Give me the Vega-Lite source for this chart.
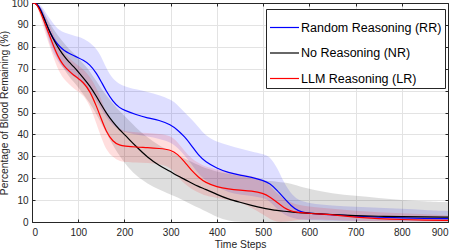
{
  "$schema": "https://vega.github.io/schema/vega-lite/v6.json",
  "width": 416,
  "height": 219,
  "autosize": {"type": "none"},
  "padding": {"left": 32, "top": 3, "right": 9, "bottom": 29},
  "background": "white",
  "config": {
    "font": "Liberation Sans",
    "view": {"stroke": null},
    "axis": {
      "labelFont": "Liberation Sans",
      "titleFont": "Liberation Sans",
      "labelFontSize": 10,
      "titleFontSize": 10.3,
      "labelColor": "#262626",
      "titleColor": "#262626",
      "titleFontWeight": "normal",
      "domainColor": "#262626",
      "tickColor": "#262626",
      "gridColor": "#e3e3e3",
      "gridWidth": 1
    }
  },
  "data": {"values": [
    {"s":"Random Reasoning (RR)","t":0,"m":100,"lo":100,"hi":100},
    {"s":"Random Reasoning (RR)","t":10,"m":100,"lo":100,"hi":100},
    {"s":"Random Reasoning (RR)","t":20,"m":97,"lo":95,"hi":99},
    {"s":"Random Reasoning (RR)","t":30,"m":91,"lo":87,"hi":95.5},
    {"s":"Random Reasoning (RR)","t":40,"m":86,"lo":80,"hi":92.5},
    {"s":"Random Reasoning (RR)","t":50,"m":82.5,"lo":75.5,"hi":89.5},
    {"s":"Random Reasoning (RR)","t":60,"m":80,"lo":72,"hi":87.5},
    {"s":"Random Reasoning (RR)","t":70,"m":78.2,"lo":70,"hi":86.5},
    {"s":"Random Reasoning (RR)","t":80,"m":77,"lo":68,"hi":85.8},
    {"s":"Random Reasoning (RR)","t":90,"m":76,"lo":66.5,"hi":85.2},
    {"s":"Random Reasoning (RR)","t":100,"m":75,"lo":65,"hi":84.6},
    {"s":"Random Reasoning (RR)","t":110,"m":74,"lo":63,"hi":83.8},
    {"s":"Random Reasoning (RR)","t":125,"m":72,"lo":60,"hi":82},
    {"s":"Random Reasoning (RR)","t":140,"m":67.8,"lo":55,"hi":79},
    {"s":"Random Reasoning (RR)","t":150,"m":64,"lo":51.5,"hi":75.5},
    {"s":"Random Reasoning (RR)","t":160,"m":60,"lo":48,"hi":70.5},
    {"s":"Random Reasoning (RR)","t":175,"m":55,"lo":44,"hi":65},
    {"s":"Random Reasoning (RR)","t":190,"m":52,"lo":42,"hi":63},
    {"s":"Random Reasoning (RR)","t":200,"m":51,"lo":41,"hi":62},
    {"s":"Random Reasoning (RR)","t":225,"m":49,"lo":40,"hi":60.5},
    {"s":"Random Reasoning (RR)","t":250,"m":47.5,"lo":39,"hi":59.5},
    {"s":"Random Reasoning (RR)","t":275,"m":46.5,"lo":38,"hi":58},
    {"s":"Random Reasoning (RR)","t":300,"m":44.5,"lo":36.5,"hi":56},
    {"s":"Random Reasoning (RR)","t":315,"m":42,"lo":34,"hi":53.5},
    {"s":"Random Reasoning (RR)","t":330,"m":39,"lo":30.5,"hi":50},
    {"s":"Random Reasoning (RR)","t":345,"m":35,"lo":26.5,"hi":47},
    {"s":"Random Reasoning (RR)","t":360,"m":30.5,"lo":22,"hi":43.5},
    {"s":"Random Reasoning (RR)","t":375,"m":27.5,"lo":19,"hi":39.5},
    {"s":"Random Reasoning (RR)","t":400,"m":24.5,"lo":16,"hi":36.5},
    {"s":"Random Reasoning (RR)","t":425,"m":22.5,"lo":13.5,"hi":35},
    {"s":"Random Reasoning (RR)","t":450,"m":21.4,"lo":12.5,"hi":33.5},
    {"s":"Random Reasoning (RR)","t":475,"m":20.5,"lo":12,"hi":32.2},
    {"s":"Random Reasoning (RR)","t":500,"m":19,"lo":11,"hi":31},
    {"s":"Random Reasoning (RR)","t":515,"m":17.6,"lo":9.5,"hi":29.8},
    {"s":"Random Reasoning (RR)","t":530,"m":14.5,"lo":6,"hi":25},
    {"s":"Random Reasoning (RR)","t":545,"m":11,"lo":3.5,"hi":18},
    {"s":"Random Reasoning (RR)","t":560,"m":7.5,"lo":2,"hi":13},
    {"s":"Random Reasoning (RR)","t":575,"m":5,"lo":1.2,"hi":10},
    {"s":"Random Reasoning (RR)","t":600,"m":3.8,"lo":0.8,"hi":8.5},
    {"s":"Random Reasoning (RR)","t":650,"m":3.3,"lo":0.6,"hi":7.5},
    {"s":"Random Reasoning (RR)","t":700,"m":2.7,"lo":0.5,"hi":7},
    {"s":"Random Reasoning (RR)","t":750,"m":2.2,"lo":0.4,"hi":6.5},
    {"s":"Random Reasoning (RR)","t":800,"m":1.9,"lo":0.3,"hi":6},
    {"s":"Random Reasoning (RR)","t":850,"m":1.7,"lo":0.3,"hi":5.5},
    {"s":"Random Reasoning (RR)","t":900,"m":1.5,"lo":0.3,"hi":5},
    {"s":"No Reasoning (NR)","t":0,"m":100,"lo":100,"hi":100},
    {"s":"No Reasoning (NR)","t":10,"m":100,"lo":100,"hi":100},
    {"s":"No Reasoning (NR)","t":20,"m":96,"lo":94,"hi":98},
    {"s":"No Reasoning (NR)","t":30,"m":91,"lo":88,"hi":94},
    {"s":"No Reasoning (NR)","t":40,"m":86,"lo":82,"hi":90},
    {"s":"No Reasoning (NR)","t":50,"m":82,"lo":77,"hi":87},
    {"s":"No Reasoning (NR)","t":60,"m":78.5,"lo":73,"hi":84},
    {"s":"No Reasoning (NR)","t":70,"m":75.5,"lo":69.5,"hi":81.5},
    {"s":"No Reasoning (NR)","t":80,"m":73,"lo":66.5,"hi":79},
    {"s":"No Reasoning (NR)","t":90,"m":71,"lo":64,"hi":77},
    {"s":"No Reasoning (NR)","t":100,"m":68.6,"lo":61.5,"hi":75},
    {"s":"No Reasoning (NR)","t":110,"m":66,"lo":58.5,"hi":72.5},
    {"s":"No Reasoning (NR)","t":125,"m":62.3,"lo":54.5,"hi":69},
    {"s":"No Reasoning (NR)","t":140,"m":57.2,"lo":49,"hi":64},
    {"s":"No Reasoning (NR)","t":150,"m":53.5,"lo":45,"hi":61},
    {"s":"No Reasoning (NR)","t":160,"m":50,"lo":41,"hi":58},
    {"s":"No Reasoning (NR)","t":175,"m":45.5,"lo":35,"hi":54},
    {"s":"No Reasoning (NR)","t":190,"m":42,"lo":30,"hi":50.5},
    {"s":"No Reasoning (NR)","t":200,"m":40,"lo":27,"hi":48.5},
    {"s":"No Reasoning (NR)","t":225,"m":34.5,"lo":21,"hi":43},
    {"s":"No Reasoning (NR)","t":250,"m":29.5,"lo":17.5,"hi":38.5},
    {"s":"No Reasoning (NR)","t":275,"m":25.8,"lo":14.8,"hi":35},
    {"s":"No Reasoning (NR)","t":300,"m":23,"lo":12.5,"hi":32},
    {"s":"No Reasoning (NR)","t":315,"m":21,"lo":11.2,"hi":30.5},
    {"s":"No Reasoning (NR)","t":330,"m":19.5,"lo":9.5,"hi":29},
    {"s":"No Reasoning (NR)","t":345,"m":17.8,"lo":8,"hi":27.5},
    {"s":"No Reasoning (NR)","t":360,"m":16.2,"lo":6.5,"hi":26},
    {"s":"No Reasoning (NR)","t":375,"m":15,"lo":5,"hi":24.5},
    {"s":"No Reasoning (NR)","t":400,"m":12.6,"lo":2.2,"hi":23},
    {"s":"No Reasoning (NR)","t":425,"m":10.4,"lo":0.5,"hi":22},
    {"s":"No Reasoning (NR)","t":450,"m":9,"lo":0,"hi":21},
    {"s":"No Reasoning (NR)","t":475,"m":7.6,"lo":0,"hi":20},
    {"s":"No Reasoning (NR)","t":500,"m":6.3,"lo":0,"hi":19},
    {"s":"No Reasoning (NR)","t":515,"m":5.8,"lo":0,"hi":18.7},
    {"s":"No Reasoning (NR)","t":530,"m":5.3,"lo":0,"hi":18.4},
    {"s":"No Reasoning (NR)","t":545,"m":4.9,"lo":0,"hi":18},
    {"s":"No Reasoning (NR)","t":560,"m":4.6,"lo":0,"hi":17.5},
    {"s":"No Reasoning (NR)","t":575,"m":4.3,"lo":0,"hi":16.5},
    {"s":"No Reasoning (NR)","t":600,"m":4,"lo":0,"hi":15},
    {"s":"No Reasoning (NR)","t":650,"m":3.4,"lo":0,"hi":13},
    {"s":"No Reasoning (NR)","t":700,"m":2.9,"lo":0,"hi":12},
    {"s":"No Reasoning (NR)","t":750,"m":2.6,"lo":0,"hi":11},
    {"s":"No Reasoning (NR)","t":800,"m":2.4,"lo":0,"hi":10},
    {"s":"No Reasoning (NR)","t":850,"m":2.3,"lo":0,"hi":9.5},
    {"s":"No Reasoning (NR)","t":900,"m":2.2,"lo":0,"hi":9},
    {"s":"LLM Reasoning (LR)","t":0,"m":100,"lo":100,"hi":100},
    {"s":"LLM Reasoning (LR)","t":10,"m":100,"lo":100,"hi":100},
    {"s":"LLM Reasoning (LR)","t":20,"m":95,"lo":92,"hi":98},
    {"s":"LLM Reasoning (LR)","t":30,"m":89.5,"lo":85.5,"hi":93.5},
    {"s":"LLM Reasoning (LR)","t":40,"m":84,"lo":79,"hi":89},
    {"s":"LLM Reasoning (LR)","t":50,"m":78.5,"lo":73,"hi":84},
    {"s":"LLM Reasoning (LR)","t":60,"m":74,"lo":68,"hi":80},
    {"s":"LLM Reasoning (LR)","t":70,"m":71,"lo":65,"hi":77},
    {"s":"LLM Reasoning (LR)","t":80,"m":69,"lo":63,"hi":75},
    {"s":"LLM Reasoning (LR)","t":90,"m":67,"lo":61,"hi":73},
    {"s":"LLM Reasoning (LR)","t":100,"m":65.6,"lo":59.5,"hi":71.5},
    {"s":"LLM Reasoning (LR)","t":110,"m":64,"lo":58,"hi":70},
    {"s":"LLM Reasoning (LR)","t":125,"m":60,"lo":53.5,"hi":66.5},
    {"s":"LLM Reasoning (LR)","t":140,"m":52.6,"lo":44.5,"hi":61},
    {"s":"LLM Reasoning (LR)","t":150,"m":47,"lo":38.5,"hi":56},
    {"s":"LLM Reasoning (LR)","t":160,"m":41.5,"lo":33,"hi":50},
    {"s":"LLM Reasoning (LR)","t":175,"m":36.5,"lo":29.5,"hi":45},
    {"s":"LLM Reasoning (LR)","t":190,"m":35,"lo":27.8,"hi":42.5},
    {"s":"LLM Reasoning (LR)","t":200,"m":34.7,"lo":27.4,"hi":41.5},
    {"s":"LLM Reasoning (LR)","t":225,"m":34.2,"lo":27.2,"hi":41},
    {"s":"LLM Reasoning (LR)","t":250,"m":34,"lo":27,"hi":40.7},
    {"s":"LLM Reasoning (LR)","t":275,"m":33.6,"lo":26.5,"hi":40.3},
    {"s":"LLM Reasoning (LR)","t":300,"m":33,"lo":25,"hi":39.5},
    {"s":"LLM Reasoning (LR)","t":315,"m":31,"lo":20.5,"hi":36.5},
    {"s":"LLM Reasoning (LR)","t":330,"m":27.5,"lo":17.5,"hi":32.5},
    {"s":"LLM Reasoning (LR)","t":345,"m":23.5,"lo":15,"hi":29},
    {"s":"LLM Reasoning (LR)","t":360,"m":20.5,"lo":13.5,"hi":27},
    {"s":"LLM Reasoning (LR)","t":375,"m":18,"lo":12,"hi":25.2},
    {"s":"LLM Reasoning (LR)","t":400,"m":16,"lo":11,"hi":24},
    {"s":"LLM Reasoning (LR)","t":425,"m":15,"lo":10,"hi":22.8},
    {"s":"LLM Reasoning (LR)","t":450,"m":14.5,"lo":9,"hi":22},
    {"s":"LLM Reasoning (LR)","t":475,"m":14.2,"lo":6.5,"hi":21},
    {"s":"LLM Reasoning (LR)","t":500,"m":13.2,"lo":3.5,"hi":19.5},
    {"s":"LLM Reasoning (LR)","t":515,"m":11.4,"lo":1.2,"hi":16.5},
    {"s":"LLM Reasoning (LR)","t":530,"m":9,"lo":0,"hi":13},
    {"s":"LLM Reasoning (LR)","t":545,"m":6.5,"lo":0,"hi":10.5},
    {"s":"LLM Reasoning (LR)","t":560,"m":5,"lo":0.5,"hi":9},
    {"s":"LLM Reasoning (LR)","t":575,"m":4.4,"lo":1,"hi":7.8},
    {"s":"LLM Reasoning (LR)","t":600,"m":3.9,"lo":1.2,"hi":7},
    {"s":"LLM Reasoning (LR)","t":650,"m":3.3,"lo":0.9,"hi":6},
    {"s":"LLM Reasoning (LR)","t":700,"m":2.2,"lo":0.5,"hi":5},
    {"s":"LLM Reasoning (LR)","t":750,"m":1.5,"lo":0.3,"hi":4.5},
    {"s":"LLM Reasoning (LR)","t":800,"m":1.1,"lo":0.2,"hi":4},
    {"s":"LLM Reasoning (LR)","t":850,"m":0.9,"lo":0.2,"hi":3.5},
    {"s":"LLM Reasoning (LR)","t":900,"m":0.7,"lo":0.2,"hi":3}
  ]},
  "layer": [
    {
      "mark": {"type": "area", "opacity": 0.13, "interpolate": "basis", "clip": true},
      "encoding": {
        "x": {"field": "t", "type": "quantitative",
              "scale": {"domain": [0, 900], "nice": false},
              "axis": {"orient": "bottom", "values": [0,100,200,300,400,500,600,700,800,900],
                       "title": "Time Steps", "tickSize": -3, "labelPadding": 8, "titlePadding": 2}},
        "y": {"field": "hi", "type": "quantitative",
              "scale": {"domain": [0, 100], "nice": false},
              "axis": {"orient": "left", "values": [0,10,20,30,40,50,60,70,80,90,100],
                       "title": "Percentage of Blood Remaining (%)", "tickSize": -3, "labelPadding": 7, "titlePadding": 2}},
        "y2": {"field": "lo"},
        "color": {"field": "s", "type": "nominal",
                  "scale": {"domain": ["Random Reasoning (RR)", "No Reasoning (NR)", "LLM Reasoning (LR)"],
                            "range": ["#0000ff", "#000000", "#ff0000"]},
                  "legend": null}
      }
    },
    {
      "mark": {"type": "line", "strokeWidth": 1.2, "interpolate": "basis", "clip": true},
      "encoding": {
        "x": {"field": "t", "type": "quantitative",
              "axis": {"orient": "top", "values": [0,100,200,300,400,500,600,700,800,900],
                       "labels": false, "grid": false, "title": null, "tickSize": -3}},
        "y": {"field": "m", "type": "quantitative",
              "axis": {"orient": "right", "values": [0,10,20,30,40,50,60,70,80,90,100],
                       "labels": false, "grid": false, "title": null, "tickSize": -3}},
        "color": {"field": "s", "type": "nominal",
                  "legend": {"orient": "none", "legendX": 234, "legendY": 6, "title": null,
                             "fillColor": "white", "strokeColor": "#262626", "padding": 3,
                             "symbolType": "stroke", "symbolSize": 841, "symbolStrokeWidth": 1.2,
                             "labelFont": "Liberation Sans", "labelFontSize": 12.5, "labelColor": "#000000",
                             "labelOffset": 1, "rowPadding": 3.5, "labelLimit": 300}}
      }
    }
  ],
  "resolve": {"axis": {"x": "independent", "y": "independent"}, "legend": {"color": "independent"}}
}
